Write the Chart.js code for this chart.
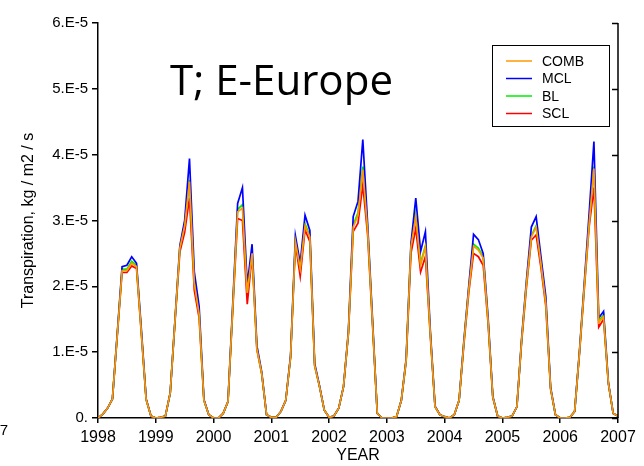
<!DOCTYPE html>
<html>
<head>
<meta charset="utf-8">
<script src="https://cdn.jsdelivr.net/npm/chart.js@4.4.0/dist/chart.umd.min.js"></script>
<style>
body{margin:0;background:#fff;}
canvas{display:block;}
</style>
</head>
<body>
<canvas id="grafica" width="644" height="466"></canvas>
<script>
// Transpiracion mensual, E-Europe, en unidades de 1.E-5 kg/m2/s (ene 1998 ... ene 2007)
const anioInicio = 1998;
const anioFin = 2007;
const yTicks = [0, 1, 2, 3, 4, 5, 6];

const comb = [
  0.00,0.06,0.15,0.29,1.26,2.24,2.24,2.35,2.30,1.30,0.28,0.03,
  0.00,0.01,0.03,0.38,1.49,2.58,2.92,3.59,2.05,1.58,0.27,0.05,
  0.00,0.00,0.07,0.25,1.70,3.13,3.19,1.90,2.50,1.05,0.68,0.05,
  0.01,0.01,0.10,0.27,0.93,2.68,2.27,2.92,2.75,0.80,0.48,0.12,
  0.01,0.03,0.15,0.48,1.29,2.90,3.08,3.77,2.86,1.47,0.07,0.00,
  0.00,0.00,0.02,0.27,0.88,2.60,3.06,2.32,2.60,1.30,0.17,0.05,
  0.02,0.00,0.05,0.27,1.15,1.95,2.61,2.55,2.43,1.49,0.32,0.03,
  0.00,0.01,0.03,0.17,1.20,2.05,2.75,2.90,2.35,1.75,0.45,0.05,
  0.00,0.00,0.01,0.10,1.00,2.00,2.95,3.79,1.45,1.54,0.53,0.07,
  0.03
];
const mcl = [
  0.00,0.06,0.15,0.29,1.28,2.30,2.32,2.45,2.35,1.35,0.29,0.03,
  0.00,0.01,0.03,0.38,1.50,2.62,3.00,3.94,2.22,1.70,0.28,0.05,
  0.00,0.00,0.07,0.25,1.75,3.26,3.50,2.02,2.64,1.10,0.70,0.05,
  0.01,0.01,0.10,0.27,0.95,2.77,2.35,3.08,2.85,0.83,0.49,0.12,
  0.01,0.03,0.15,0.48,1.31,3.06,3.29,4.23,2.95,1.52,0.07,0.00,
  0.00,0.00,0.02,0.27,0.90,2.65,3.34,2.53,2.83,1.35,0.18,0.05,
  0.02,0.00,0.05,0.27,1.18,2.00,2.79,2.71,2.50,1.55,0.33,0.03,
  0.00,0.01,0.03,0.17,1.22,2.10,2.90,3.06,2.45,1.85,0.47,0.05,
  0.00,0.00,0.01,0.10,1.02,2.05,3.10,4.20,1.52,1.62,0.54,0.07,
  0.03
];
const bl = [
  0.00,0.06,0.15,0.29,1.27,2.26,2.26,2.38,2.32,1.31,0.28,0.03,
  0.00,0.01,0.03,0.38,1.49,2.59,2.95,3.61,2.08,1.60,0.27,0.05,
  0.00,0.00,0.07,0.25,1.71,3.17,3.24,1.92,2.52,1.06,0.68,0.05,
  0.01,0.01,0.10,0.27,0.93,2.70,2.29,2.95,2.77,0.80,0.48,0.12,
  0.01,0.03,0.15,0.48,1.29,2.93,3.12,3.82,2.88,1.48,0.07,0.00,
  0.00,0.00,0.02,0.27,0.88,2.62,3.11,2.35,2.62,1.31,0.17,0.05,
  0.02,0.00,0.05,0.27,1.16,1.97,2.64,2.58,2.45,1.50,0.32,0.03,
  0.00,0.01,0.03,0.17,1.20,2.06,2.77,2.92,2.37,1.77,0.45,0.05,
  0.00,0.00,0.01,0.10,1.00,2.01,2.97,3.82,1.47,1.57,0.53,0.07,
  0.03
];
const scl = [
  0.00,0.06,0.15,0.29,1.25,2.21,2.21,2.31,2.27,1.28,0.28,0.03,
  0.00,0.01,0.03,0.38,1.47,2.52,2.82,3.34,1.94,1.52,0.27,0.05,
  0.00,0.00,0.07,0.25,1.66,3.03,3.00,1.73,2.47,1.04,0.67,0.05,
  0.01,0.01,0.10,0.27,0.92,2.65,2.15,2.86,2.68,0.79,0.48,0.12,
  0.01,0.03,0.15,0.48,1.27,2.83,2.96,3.54,2.78,1.44,0.07,0.00,
  0.00,0.00,0.02,0.27,0.86,2.50,2.88,2.22,2.45,1.27,0.17,0.05,
  0.02,0.00,0.05,0.27,1.12,1.90,2.50,2.45,2.32,1.45,0.31,0.03,
  0.00,0.01,0.03,0.17,1.17,2.00,2.70,2.78,2.28,1.70,0.44,0.05,
  0.00,0.00,0.01,0.10,0.98,1.96,2.90,3.50,1.38,1.50,0.52,0.07,
  0.03
];

// cada mes en su fraccion de anio
const puntos = arr => arr.map((v, i) => ({x: anioInicio + i / 12, y: v}));

const serie = (label, arr, color) => ({
  label: label,
  data: puntos(arr),
  borderColor: color,
  backgroundColor: color,
  borderWidth: 1.7,
  pointRadius: 0,
  tension: 0,
  fill: false
});

const fuente = '"Liberation Sans", Arial, Helvetica, sans-serif';

// borde derecho, titulo y leyenda
const extras = {
  id: 'extras',
  afterDraw(chart) {
    const ctx = chart.ctx;
    const a = chart.chartArea;
    const ys = chart.scales.y;
    ctx.save();
    ctx.strokeStyle = '#000';
    ctx.lineWidth = 1.5;
    ctx.beginPath();
    ctx.moveTo(a.right, a.top);
    ctx.lineTo(a.right, a.bottom);
    ys.ticks.forEach(t => {
      const py = Math.round(ys.getPixelForValue(t.value)) + 0.5;
      ctx.moveTo(a.right, py);
      ctx.lineTo(a.right - 6, py);
    });
    ctx.stroke();

    // titulo grande dentro del grafico
    ctx.fillStyle = '#000';
    ctx.font = '42px "Open Sans", "Noto Sans", sans-serif';
    ctx.textBaseline = 'alphabetic';
    ctx.textAlign = 'left';
    const txt = 'T; E-Europe';
    const w = ctx.measureText(txt).width;
    ctx.save();
    ctx.translate(170, 95);
    ctx.scale(223 / w, 1);
    ctx.fillText(txt, 0, 0);
    ctx.restore();

    // leyenda con caja
    ctx.lineWidth = 1;
    ctx.strokeRect(492.5, 45.5, 117, 81);
    ctx.font = '14px ' + fuente;
    ctx.textBaseline = 'middle';
    chart.data.datasets.forEach((ds, k) => {
      const yy = 61 + k * 17.5;
      ctx.strokeStyle = ds.borderColor;
      ctx.lineWidth = 1.5;
      ctx.beginPath();
      ctx.moveTo(506, yy);
      ctx.lineTo(532, yy);
      ctx.stroke();
      ctx.fillStyle = '#000';
      ctx.fillText(ds.label, 542, yy + 1);
    });

    // resto del panel vecino
    ctx.font = '15px ' + fuente;
    ctx.textAlign = 'right';
    ctx.fillText('2007', 8, 431);
    ctx.restore();
  }
};

new Chart(document.getElementById('grafica'), {
  type: 'line',
  data: {
    datasets: [
      serie('COMB', comb, '#ff9900'),
      serie('MCL', mcl, '#0000ff'),
      serie('BL', bl, '#00ee00'),
      serie('SCL', scl, '#ff0000')
    ]
  },
  options: {
    responsive: false,
    animation: false,
    devicePixelRatio: 1,
    layout: {padding: {left: 0, top: 23, right: 26, bottom: 0}},
    plugins: {
      legend: {display: false},
      tooltip: {enabled: false}
    },
    scales: {
      x: {
        type: 'linear',
        min: anioInicio,
        max: anioFin,
        afterFit: s => { s.height = 48; },
        afterBuildTicks: s => {
          s.ticks = [];
          for (let a = anioInicio; a <= anioFin; a++) s.ticks.push({value: a});
        },
        ticks: {
          callback: v => String(v),
          color: '#000',
          font: {family: fuente, size: 16},
          padding: 5,
          maxRotation: 0,
          autoSkip: false
        },
        grid: {drawOnChartArea: false, drawTicks: true, tickLength: 5, color: '#000', lineWidth: 1.5},
        border: {display: true, color: '#000', width: 1.5},
        title: {display: true, text: 'YEAR', color: '#000', font: {family: fuente, size: 16}, padding: {top: 0, bottom: 1}}
      },
      y: {
        type: 'linear',
        min: 0,
        max: 6,
        afterFit: s => { s.width = 98; },
        afterBuildTicks: s => { s.ticks = yTicks.map(v => ({value: v})); },
        ticks: {
          callback: v => v === 0 ? '0.' : v + '.E-5',
          color: '#000',
          font: {family: fuente, size: 15},
          padding: 4
        },
        grid: {drawOnChartArea: false, drawTicks: true, tickLength: 6, color: '#000', lineWidth: 1.5},
        border: {display: true, color: '#000', width: 1.5},
        title: {display: true, text: 'Transpiration, kg / m2 / s', color: '#000', font: {family: fuente, size: 16}, padding: {top: 19, bottom: 0}}
      }
    }
  },
  plugins: [extras]
});
</script>
</body>
</html>
